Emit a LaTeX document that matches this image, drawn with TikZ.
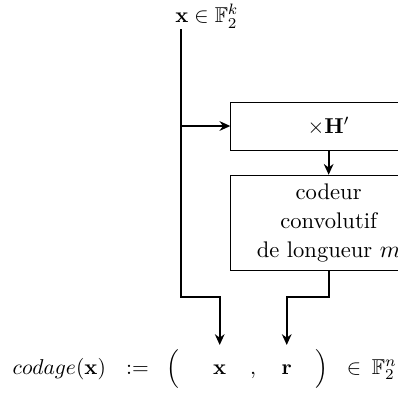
\documentclass[tikz,border=0pt]{standalone}
\usepackage{amsmath}
\usepackage{amssymb}
\usetikzlibrary{positioning,arrows.meta}

\begin{document}
\begin{tikzpicture}[
        bloc/.style={draw, minimum width=3.2cm, align=center},
        fleche/.style={thick, -{Stealth[length=5pt,width=4.5pt]}},
        terme/.style={anchor=base, inner sep=0pt},
    ]
        \useasboundingbox (0,0) rectangle (6.503,-6.471);
        \clip (0,0) rectangle (6.503,-6.471);
        \node[anchor=base west, inner sep=0pt] (entree) at (2.86,-0.371) {$\mathbf{x}\in\mathbb{F}_2^k$};
        \coordinate (haut) at (2.958,-0.474);
        \coordinate (branche) at (2.958,-2.059);
        \coordinate (coinG) at (2.958,-4.848);
        \node[bloc, minimum height=0.778cm] (hprime) at (5.37,-2.067) {$\times\mathbf{H}'$};
        \node[bloc, minimum height=1.564cm, below=0.392cm of hprime,
            font=\fontsize{10.5}{13.4}\selectfont] (codeur) {codeur\\convolutif\\de longueur $m$};
        \coordinate (coinD) at (4.70,-4.848);
        % ligne du bas
        \node[terme] (codage) at (0.969,-6.116) {$codage(\mathbf{x})$};
        \node[terme] (def) at (2.247,-6.116) {$:=$};
        \node[terme] (parG) at (2.827,-6.116) {$\Big($};
        \node[terme] (x) at (3.590,-6.116) {$\mathbf{x}$};
        \node[terme] (virg) at (4.134,-6.116) {$,$};
        \node[terme] (r) at (4.685,-6.116) {$\mathbf{r}$};
        \node[terme] (parD) at (5.261,-6.116) {$\Big)$};
        \node[terme] (appart) at (5.784,-6.116) {$\in$};
        \node[terme, anchor=base west] (espace) at (6.07,-6.116) {$\mathbb{F}_2^n$};
        % connexions
        \draw[fleche, shorten >=9pt] (haut) -- (coinG) -| (x);
        \draw[fleche] (branche) -- (branche -| hprime.west);
        \draw[fleche] (hprime) -- (codeur);
        \draw[fleche, shorten >=9pt] (codeur) |- (coinD) -| (r);
\end{tikzpicture}
\end{document}
